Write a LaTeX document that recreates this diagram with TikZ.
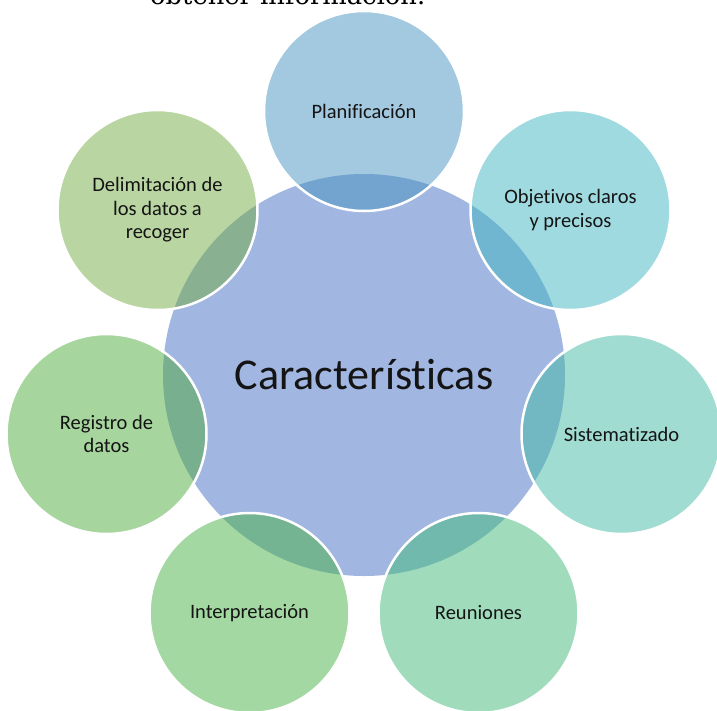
\documentclass[tikz,border=0pt]{standalone}
\usepackage{fontspec}
\setmainfont{Carlito}[Ligatures={NoCommon}]
\newfontfamily\topfont{DejaVu Serif}
\definecolor{hubc}{RGB}{161,182,224}
\definecolor{cA}{RGB}{71,148,192}
\definecolor{cB}{RGB}{67,183,196}
\definecolor{cC}{RGB}{67,187,165}
\definecolor{cD}{RGB}{67,187,123}
\definecolor{cE}{RGB}{73,179,71}
\definecolor{cF}{RGB}{80,172,63}
\definecolor{cG}{RGB}{117,172,69}
\definecolor{txt}{RGB}{20,20,20}
\begin{document}
\begin{tikzpicture}[x=1pt,y=-1pt,
  hub/.style={circle,minimum size=402pt,inner sep=0pt,fill=hubc,
    font=\fontsize{44}{50}\selectfont,text=txt},
  sat/.style={circle,minimum size=200pt,inner sep=0pt,draw=white,line width=2.5pt,
    fill opacity=0.5,draw opacity=1,text opacity=1,align=center,
    font=\fontsize{20.5}{23.5}\selectfont,text=txt}]
\clip (0,0) rectangle (717,710);
\fill[white] (0,0) rectangle (717,710);
\node[anchor=base west,inner sep=0pt] (toptext) at (150,4.5)
  {\resizebox{275pt}{!}{\topfont obtener información.}};
\node[hub] (hub) at (364,375) {Características};
\node[sat,fill=cA] (s1) at (364,111) {Planificación};
\node[sat,fill=cB] (s2) at (570.5,210) {Objetivos claros\\y precisos};
\node[sat,fill=cC] (s3) at (621.5,434) {Sistematizado};
\node[sat,fill=cD] (s4) at (478.5,613) {Reuniones};
\node[sat,fill=cE] (s5) at (249.5,613) {Interpretación};
\node[sat,fill=cF] (s6) at (106.5,434) {Registro de\\datos};
\node[sat,fill=cG] (s7) at (157.5,210) {Delimitación de\\los datos a\\recoger};
\end{tikzpicture}
\end{document}
